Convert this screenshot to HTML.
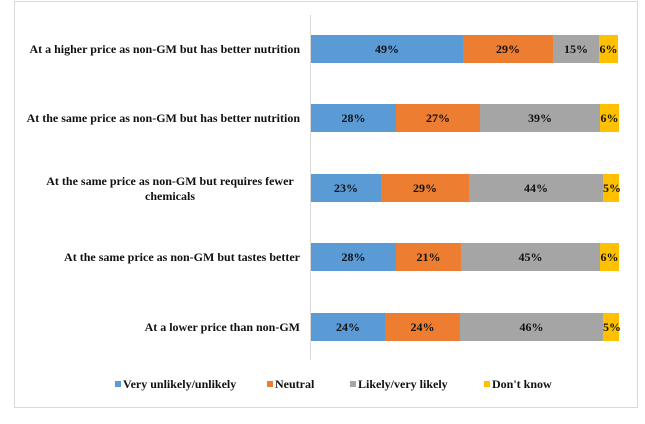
<!DOCTYPE html>
<html><head><style>
body{margin:0;width:645px;height:424px;background:#fff;font-family:"Liberation Serif",serif;font-weight:bold;color:#111;position:relative;overflow:hidden}
.frame{position:absolute;left:14px;top:1px;width:622px;height:405px;border:1px solid #d9d9d9}
.axis{position:absolute;left:310px;top:15px;width:1px;height:345px;background:#d9d9d9}
.lab{position:absolute;right:345px;text-align:right;font-size:12px;line-height:15px;width:300px;white-space:nowrap}
.bar{position:absolute;left:311px;height:28px;display:flex}
.bar div{height:28px;line-height:28px;text-align:center;font-size:12px}
.b{background:#5b9bd5}.o{background:#ed7d31}.g{background:#a5a5a5}.y{background:#ffc000}
.leg{position:absolute;top:377px;font-size:12px}
.leg span{display:inline-block;width:6px;height:6px;margin-right:2px;vertical-align:1px}
</style></head><body>
<div class="frame"></div>
<div class="axis"></div>
<div class="lab" style="top:42px">At a higher price as non-GM but has better nutrition</div>
<div class="lab" style="top:111px">At the same price as non-GM but has better nutrition</div>
<div class="lab" style="top:174px;text-align:center;width:260px">At the same price as non-GM but requires fewer<br>chemicals</div>
<div class="lab" style="top:250px">At the same price as non-GM but tastes better</div>
<div class="lab" style="top:320px">At a lower price than non-GM</div>

<div class="bar" style="top:35px"><div class="b" style="width:152px">49%</div><div class="o" style="width:90px">29%</div><div class="g" style="width:46px">15%</div><div class="y" style="width:19px">6%</div></div>
<div class="bar" style="top:104px"><div class="b" style="width:85px">28%</div><div class="o" style="width:84px">27%</div><div class="g" style="width:120px">39%</div><div class="y" style="width:19px">6%</div></div>
<div class="bar" style="top:174px"><div class="b" style="width:70px">23%</div><div class="o" style="width:88px">29%</div><div class="g" style="width:134px">44%</div><div class="y" style="width:16px">5%</div></div>
<div class="bar" style="top:243px"><div class="b" style="width:85px">28%</div><div class="o" style="width:65px">21%</div><div class="g" style="width:139px">45%</div><div class="y" style="width:19px">6%</div></div>
<div class="bar" style="top:313px"><div class="b" style="width:74px">24%</div><div class="o" style="width:75px">24%</div><div class="g" style="width:143px">46%</div><div class="y" style="width:16px">5%</div></div>

<div class="leg" style="left:115px"><span class="b"></span>Very unlikely/unlikely</div>
<div class="leg" style="left:267px"><span class="o"></span>Neutral</div>
<div class="leg" style="left:350px"><span class="g"></span>Likely/very likely</div>
<div class="leg" style="left:484px"><span class="y"></span>Don't know</div>
</body></html>
